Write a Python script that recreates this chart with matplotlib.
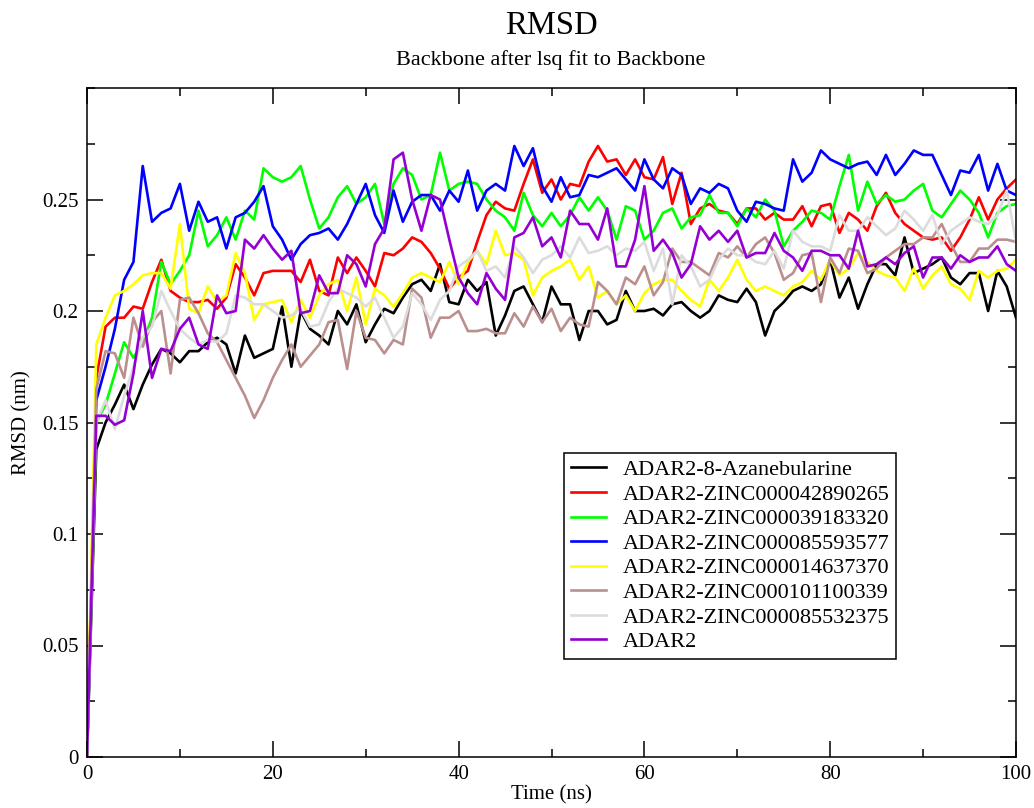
import matplotlib
matplotlib.use("Agg")
import matplotlib.pyplot as plt
from matplotlib.ticker import MultipleLocator

plt.rcParams['font.family'] = ['Liberation Serif', 'DejaVu Serif']

# time axis, one frame per ns
time_ns = list(range(0, 101))

azanebularine = [0.0, 0.138, 0.150, 0.158, 0.167, 0.156, 0.167, 0.176, 0.183, 0.181,
                 0.177, 0.182, 0.182, 0.186, 0.188, 0.185, 0.172, 0.189, 0.179, 0.181,
                 0.183, 0.202, 0.175, 0.200, 0.192, 0.189, 0.185, 0.200, 0.194, 0.203,
                 0.186, 0.194, 0.201, 0.199, 0.206, 0.212, 0.214, 0.209, 0.221, 0.204,
                 0.203, 0.214, 0.209, 0.213, 0.189, 0.198, 0.209, 0.211, 0.203, 0.195,
                 0.211, 0.203, 0.203, 0.187, 0.200, 0.200, 0.194, 0.196, 0.209, 0.200,
                 0.200, 0.201, 0.198, 0.203, 0.204, 0.200, 0.197, 0.200, 0.207, 0.205,
                 0.204, 0.210, 0.204, 0.189, 0.200, 0.204, 0.209, 0.211, 0.209, 0.212,
                 0.223, 0.206, 0.215, 0.201, 0.212, 0.221, 0.221, 0.216, 0.233, 0.217,
                 0.219, 0.221, 0.224, 0.215, 0.212, 0.217, 0.217, 0.200, 0.218, 0.211,
                 0.197]

zinc42890265 = [0.0, 0.170, 0.193, 0.197, 0.197, 0.202, 0.201, 0.213, 0.223, 0.209,
                0.206, 0.204, 0.204, 0.205, 0.201, 0.206, 0.221, 0.215, 0.207, 0.217,
                0.218, 0.218, 0.218, 0.213, 0.223, 0.209, 0.207, 0.224, 0.217, 0.224,
                0.218, 0.211, 0.226, 0.225, 0.228, 0.233, 0.231, 0.226, 0.219, 0.210,
                0.215, 0.218, 0.231, 0.243, 0.249, 0.246, 0.245, 0.257, 0.268, 0.253,
                0.259, 0.250, 0.257, 0.256, 0.267, 0.274, 0.267, 0.268, 0.261, 0.268,
                0.260, 0.259, 0.269, 0.248, 0.262, 0.239, 0.246, 0.248, 0.245, 0.244,
                0.239, 0.246, 0.246, 0.241, 0.244, 0.241, 0.241, 0.247, 0.238, 0.247,
                0.248, 0.235, 0.244, 0.241, 0.236, 0.247, 0.253, 0.244, 0.239, 0.236,
                0.233, 0.232, 0.233, 0.227, 0.233, 0.241, 0.251, 0.241, 0.250, 0.255,
                0.259]

zinc39183320 = [0.0, 0.150, 0.158, 0.172, 0.186, 0.179, 0.186, 0.197, 0.222, 0.212,
                0.218, 0.225, 0.245, 0.229, 0.234, 0.242, 0.232, 0.245, 0.241, 0.264,
                0.260, 0.258, 0.260, 0.265, 0.250, 0.237, 0.242, 0.251, 0.256, 0.248,
                0.251, 0.257, 0.239, 0.257, 0.264, 0.261, 0.250, 0.252, 0.271, 0.254,
                0.257, 0.258, 0.257, 0.250, 0.245, 0.242, 0.236, 0.253, 0.243, 0.238,
                0.244, 0.238, 0.243, 0.251, 0.245, 0.251, 0.245, 0.232, 0.247, 0.245,
                0.232, 0.236, 0.244, 0.246, 0.237, 0.242, 0.243, 0.252, 0.244, 0.244,
                0.238, 0.246, 0.242, 0.250, 0.245, 0.229, 0.236, 0.240, 0.245, 0.244,
                0.241, 0.256, 0.270, 0.245, 0.258, 0.248, 0.252, 0.249, 0.250, 0.254,
                0.257, 0.245, 0.242, 0.248, 0.254, 0.250, 0.244, 0.233, 0.244, 0.247,
                0.248]

zinc85593577 = [0.0, 0.160, 0.175, 0.192, 0.214, 0.222, 0.265, 0.240, 0.244, 0.246,
                0.257, 0.236, 0.249, 0.240, 0.242, 0.228, 0.242, 0.244, 0.249, 0.256,
                0.238, 0.232, 0.223, 0.230, 0.234, 0.235, 0.237, 0.232, 0.239, 0.248,
                0.257, 0.243, 0.235, 0.254, 0.240, 0.249, 0.252, 0.252, 0.245, 0.254,
                0.249, 0.263, 0.245, 0.254, 0.257, 0.254, 0.274, 0.265, 0.273, 0.256,
                0.249, 0.260, 0.251, 0.252, 0.261, 0.260, 0.262, 0.264, 0.259, 0.254,
                0.268, 0.259, 0.255, 0.264, 0.261, 0.248, 0.255, 0.253, 0.257, 0.255,
                0.245, 0.240, 0.249, 0.248, 0.246, 0.245, 0.268, 0.258, 0.262, 0.272,
                0.268, 0.266, 0.264, 0.266, 0.267, 0.261, 0.270, 0.261, 0.266, 0.272,
                0.270, 0.270, 0.261, 0.252, 0.263, 0.262, 0.270, 0.254, 0.266, 0.254,
                0.252]

zinc14637370 = [0.0, 0.185, 0.197, 0.207, 0.209, 0.212, 0.216, 0.217, 0.217, 0.210,
                0.239, 0.201, 0.199, 0.211, 0.204, 0.207, 0.226, 0.217, 0.196, 0.203,
                0.204, 0.205, 0.195, 0.205, 0.197, 0.207, 0.212, 0.214, 0.200, 0.215,
                0.194, 0.210, 0.207, 0.202, 0.208, 0.215, 0.217, 0.215, 0.213, 0.222,
                0.212, 0.222, 0.227, 0.221, 0.236, 0.225, 0.226, 0.223, 0.207, 0.215,
                0.218, 0.220, 0.223, 0.214, 0.220, 0.206, 0.209, 0.203, 0.207, 0.200,
                0.208, 0.212, 0.214, 0.214, 0.209, 0.205, 0.202, 0.214, 0.209, 0.215,
                0.223, 0.214, 0.209, 0.211, 0.209, 0.207, 0.211, 0.213, 0.218, 0.214,
                0.223, 0.216, 0.219, 0.226, 0.222, 0.218, 0.216, 0.215, 0.209, 0.219,
                0.210, 0.216, 0.220, 0.212, 0.210, 0.205, 0.218, 0.215, 0.218, 0.219,
                0.223]

zinc101100339 = [0.0, 0.165, 0.182, 0.181, 0.170, 0.197, 0.184, 0.195, 0.200, 0.172,
                 0.205, 0.206, 0.199, 0.190, 0.186, 0.178, 0.170, 0.162, 0.152, 0.160,
                 0.170, 0.178, 0.185, 0.175, 0.180, 0.185, 0.195, 0.196, 0.174, 0.200,
                 0.188, 0.187, 0.181, 0.187, 0.185, 0.210, 0.206, 0.188, 0.197, 0.197,
                 0.200, 0.191, 0.191, 0.192, 0.190, 0.190, 0.199, 0.193, 0.202, 0.195,
                 0.201, 0.191, 0.197, 0.194, 0.193, 0.213, 0.209, 0.203, 0.215, 0.212,
                 0.220, 0.207, 0.213, 0.228, 0.222, 0.222, 0.219, 0.216, 0.226, 0.224,
                 0.229, 0.224, 0.230, 0.233, 0.226, 0.214, 0.217, 0.225, 0.226, 0.204,
                 0.224, 0.217, 0.228, 0.227, 0.217, 0.219, 0.224, 0.227, 0.230, 0.230,
                 0.233, 0.233, 0.239, 0.230, 0.222, 0.222, 0.228, 0.228, 0.232, 0.232,
                 0.231]

zinc85532375 = [0.0, 0.150, 0.160, 0.147, 0.162, 0.175, 0.188, 0.193, 0.209, 0.200,
                0.192, 0.188, 0.185, 0.187, 0.186, 0.190, 0.207, 0.206, 0.203, 0.203,
                0.200, 0.197, 0.198, 0.201, 0.193, 0.194, 0.204, 0.210, 0.208, 0.206,
                0.202, 0.206, 0.197, 0.188, 0.193, 0.208, 0.203, 0.196, 0.205, 0.209,
                0.220, 0.223, 0.227, 0.218, 0.220, 0.215, 0.229, 0.224, 0.217, 0.223,
                0.225, 0.229, 0.224, 0.233, 0.226, 0.227, 0.229, 0.225, 0.228, 0.227,
                0.231, 0.218, 0.228, 0.203, 0.225, 0.220, 0.211, 0.214, 0.223, 0.228,
                0.225, 0.225, 0.222, 0.221, 0.227, 0.219, 0.236, 0.231, 0.229, 0.229,
                0.227, 0.243, 0.236, 0.236, 0.242, 0.238, 0.234, 0.237, 0.245, 0.241,
                0.236, 0.243, 0.230, 0.236, 0.239, 0.242, 0.240, 0.239, 0.243, 0.254,
                0.231]

adar2 = [0.0, 0.153, 0.153, 0.149, 0.151, 0.172, 0.200, 0.170, 0.183, 0.182,
         0.192, 0.197, 0.185, 0.183, 0.207, 0.199, 0.200, 0.232, 0.228, 0.234,
         0.228, 0.223, 0.227, 0.199, 0.200, 0.216, 0.208, 0.208, 0.225, 0.221,
         0.211, 0.230, 0.237, 0.268, 0.271, 0.250, 0.236, 0.252, 0.250, 0.232,
         0.215, 0.208, 0.203, 0.217, 0.210, 0.205, 0.233, 0.235, 0.242, 0.229,
         0.233, 0.224, 0.245, 0.239, 0.239, 0.232, 0.246, 0.220, 0.220, 0.232,
         0.256, 0.227, 0.232, 0.226, 0.215, 0.221, 0.238, 0.232, 0.236, 0.231,
         0.236, 0.224, 0.226, 0.226, 0.235, 0.227, 0.224, 0.218, 0.227, 0.227,
         0.225, 0.225, 0.219, 0.236, 0.220, 0.221, 0.224, 0.221, 0.226, 0.229,
         0.215, 0.224, 0.224, 0.219, 0.225, 0.222, 0.224, 0.224, 0.229, 0.221,
         0.218]

labels = ["ADAR2-8-Azanebularine", "ADAR2-ZINC000042890265", "ADAR2-ZINC000039183320",
          "ADAR2-ZINC000085593577", "ADAR2-ZINC000014637370", "ADAR2-ZINC000101100339",
          "ADAR2-ZINC000085532375", "ADAR2"]
series = [azanebularine, zinc42890265, zinc39183320, zinc85593577,
          zinc14637370, zinc101100339, zinc85532375, adar2]
colors = ["#000000", "#ff0000", "#00ff00", "#0000ff",
          "#ffff00", "#bc8f8f", "#dcdcdc", "#9400d3"]

fig = plt.figure(figsize=(10.34, 8.08), dpi=100)
ax = fig.add_axes([87/1034, 51/808, 929/1034, 669/808])

for vals, lab, col in zip(series, labels, colors):
    ax.plot(time_ns, vals, color=col, lw=1.9, label=lab)

ax.set_xlim(0, 100)
ax.set_ylim(0, 0.3)
ax.set_xticks([0, 20, 40, 60, 80, 100])
ax.set_xticklabels(["0", "20", "40", "60", "80", "100"])
ax.set_yticks([0, 0.05, 0.1, 0.15, 0.2, 0.25])
ax.set_yticklabels(["0", "0.05", "0.1", "0.15", "0.2", "0.25"])
ax.xaxis.set_minor_locator(MultipleLocator(10))
ax.yaxis.set_minor_locator(MultipleLocator(0.025))
ax.tick_params(which='both', direction='in', top=True, right=True, width=1.1,
               labelsize=15, pad=6)
ax.tick_params(which='major', length=11.5)
ax.tick_params(which='minor', length=5.8)
for s in ax.spines.values():
    s.set_linewidth(1.1)

ax.set_xlabel("Time (ns)", fontsize=15, labelpad=1)
ax.set_ylabel("RMSD (nm)", fontsize=15, labelpad=8)

fig.text(551/1034, 1 - 26/808, "RMSD", ha='center', va='center', fontsize=23.5)
fig.text(551/1034, 1 - 60/808, "Backbone after lsq fit to Backbone", ha='center',
         va='center', fontsize=16)

leg = ax.legend(loc='upper left', bbox_to_anchor=(564/1034, 1 - 453/808),
                bbox_transform=fig.transFigure, borderaxespad=0, fontsize=16,
                fancybox=False, framealpha=1, edgecolor='black',
                handlelength=1.6, handletextpad=0.75, labelspacing=0.18,
                borderpad=0.3)
leg.get_frame().set_linewidth(1.1)

plt.savefig("out.png", dpi=100)
